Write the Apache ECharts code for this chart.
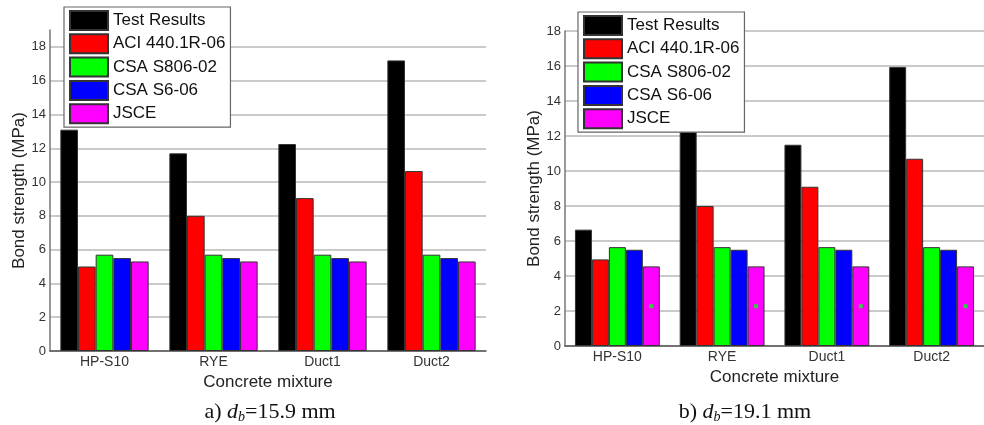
<!DOCTYPE html>
<html><head><meta charset="utf-8">
<script src="https://cdn.jsdelivr.net/npm/echarts@6/dist/echarts.min.js"></script>
<style>html,body{margin:0;padding:0;background:#fff}#c{width:984px;height:425px}</style>
</head><body><div id="c"></div>
<script>
const categories = ['HP-S10', 'RYE', 'Duct1', 'Duct2'];
const seriesNames = ['Test Results', 'ACI 440.1R-06', 'CSA S806-02', 'CSA S6-06', 'JSCE'];
const colors = ['#000000', '#ff0000', '#00ff00', '#0000ff', '#ff00ff'];
// a) db = 15.9 mm
const a_test = [13.1, 11.7, 12.25, 17.2];
const a_aci = [5.0, 8.0, 9.05, 10.65];
const a_s806 = [5.7, 5.7, 5.7, 5.7];
const a_s6 = [5.5, 5.5, 5.5, 5.5];
const a_jsce = [5.3, 5.3, 5.3, 5.3];
// b) db = 19.1 mm
const b_test = [6.65, 12.7, 11.5, 15.95];
const b_aci = [4.95, 8.0, 9.1, 10.7];
const b_s806 = [5.65, 5.65, 5.65, 5.65];
const b_s6 = [5.5, 5.5, 5.5, 5.5];
const b_jsce = [4.55, 4.55, 4.55, 4.55];
const yTicks = [0, 2, 4, 6, 8, 10, 12, 14, 16, 18];

const aData = [a_test, a_aci, a_s806, a_s6, a_jsce];
const bData = [b_test, b_aci, b_s806, b_s6, b_jsce];

const chart = echarts.init(document.getElementById('c'));
const font = 'Liberation Sans, Arial, sans-serif';

function xAxis(gi) {
  return {
    type: 'category', gridIndex: gi, data: categories,
    name: 'Concrete mixture', nameLocation: 'middle', nameGap: 22,
    nameTextStyle: {fontFamily: font, fontSize: 17, color: '#222'},
    axisLine: {lineStyle: {color: '#555', width: 1.5}},
    axisTick: {show: false},
    axisLabel: {fontFamily: font, fontSize: 14, color: '#333', margin: 4}
  };
}
function yAxis(gi, max, gap) {
  return {
    type: 'value', gridIndex: gi, min: 0, max: max, interval: 2,
    name: 'Bond strength (MPa)', nameLocation: 'middle', nameGap: gap,
    nameTextStyle: {fontFamily: font, fontSize: 17, color: '#222'},
    axisLine: {show: true, lineStyle: {color: '#777', width: 1.5}},
    axisTick: {show: false},
    axisLabel: {fontFamily: font, fontSize: 13, color: '#333', margin: 4, showMaxLabel: max === 18,
      formatter: v => (yTicks.indexOf(v) >= 0 ? String(v) : '')},
    splitLine: {show: true, showMaxLine: max === 18, lineStyle: {color: '#b8b8b8', width: 1.5}}
  };
}

const series = [];
aData.forEach((d, i) => series.push({
  type: 'bar', name: seriesNames[i], xAxisIndex: 0, yAxisIndex: 0, data: d,
  barGap: 0, barCategoryGap: '19%',
  itemStyle: {color: colors[i], borderColor: '#333', borderWidth: 1},
  emphasis: {disabled: true}
}));
bData.forEach((d, i) => series.push({
  type: 'bar', name: seriesNames[i], xAxisIndex: 1, yAxisIndex: 1, data: d,
  barGap: 0, barCategoryGap: '19%',
  itemStyle: {color: colors[i], borderColor: '#333', borderWidth: 1},
  label: i === 4 ? {show: true, position: 'inside', formatter: '{d|}', textBorderWidth: 0,
    rich: {d: {width: 4, height: 4, backgroundColor: '#33cc44'}}} : {show: false},
  emphasis: {disabled: true}
}));

function legend(left, top) {
  return {
    data: seriesNames, orient: 'vertical', left: left, top: top,
    itemWidth: 38, itemHeight: 19, itemGap: 2.3, padding: [3, 5, 3, 5],
    backgroundColor: '#fff', borderColor: '#666', borderWidth: 1.2,
    icon: 'rect', selectedMode: false, z: 10,
    textStyle: {fontFamily: font, fontSize: 17, color: '#111'}
  };
}

const serif = 'Liberation Serif, Times New Roman, serif';
const capRich = {
  r: {fontFamily: serif, fontSize: 22, fontWeight: 'normal', color: '#111'},
  i: {fontFamily: serif, fontSize: 22, fontWeight: 'normal', fontStyle: 'italic', color: '#111'},
  s: {fontFamily: serif, fontSize: 14, fontWeight: 'normal', fontStyle: 'italic', color: '#111', padding: [9, 0, 0, 0]}
};

chart.setOption({
  animation: false,
  grid: [
    {left: 50, top: 30, width: 436, bottom: 74},
    {left: 565, top: 31, width: 428, bottom: 79}
  ],
  xAxis: [xAxis(0), xAxis(1)],
  yAxis: [yAxis(0, 19, 22), yAxis(1, 18, 21)],
  legend: [legend(64, 7), legend(578, 12)],
  title: [
    {text: '{r|a) }{i|d}{s|b}{r|=15.9 mm}', left: 265, top: 396, textAlign: 'center',
      textStyle: {fontWeight: 'normal', rich: capRich}},
    {text: '{r|b) }{i|d}{s|b}{r|=19.1 mm}', left: 740, top: 396, textAlign: 'center',
      textStyle: {fontWeight: 'normal', rich: capRich}}
  ],
  series: series
});
</script></body></html>
